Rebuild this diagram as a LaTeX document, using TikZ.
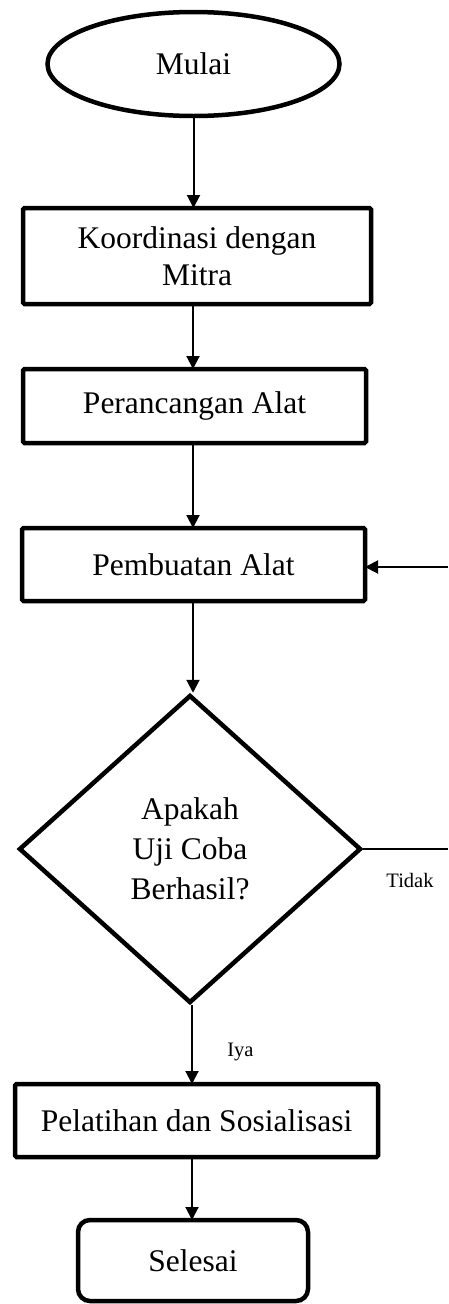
\documentclass[tikz,border=0pt]{standalone}
\usepackage{fontspec}
\setmainfont{Liberation Serif}
\usetikzlibrary{shapes.geometric,arrows.meta}
\begin{document}
\begin{tikzpicture}[x=1pt,y=-1pt,
  every node/.style={font=\fontsize{31.5}{37}\selectfont, text=black},
  procbox/.style={draw, line width=4.5pt, rounded corners=1.5pt, align=center, inner sep=0pt, outer sep=0pt},
  conn/.style={line width=2pt, -{Triangle[length=13pt,width=13pt]}},
  plainline/.style={line width=2pt},
  smalllbl/.style={font=\fontsize{20.5}{24}\selectfont}
]
\useasboundingbox (0,0) rectangle (448,1304);
\node[draw, ellipse, line width=4.5pt, minimum width=292pt, minimum height=104pt, inner sep=0pt] (start) at (193.5,64) {Mulai};
\node[procbox, minimum width=348pt, minimum height=96pt] (k) at (197,256) {Koordinasi dengan\\Mitra};
\node[procbox, minimum width=343pt, minimum height=74pt] (p) at (194.5,406) {Perancangan Alat};
\node[procbox, minimum width=343pt, minimum height=73pt] (b) at (193.5,564.5) {Pembuatan Alat};
\node[draw, diamond, line width=4.5pt, minimum width=342pt, minimum height=308pt, aspect=1.11, inner sep=0pt] (d) at (190,849) {};
\node[align=center, font=\fontsize{31.5}{40}\selectfont] (dt) at (d.center) {Apakah\\Uji Coba\\Berhasil?};
\node[procbox, minimum width=363pt, minimum height=73pt] (l) at (196.5,1120.5) {Pelatihan dan Sosialisasi};
\node[procbox, rounded corners=12pt, minimum width=230pt, minimum height=81pt] (s) at (193,1260.5) {Selesai};
\node[smalllbl] (tidak) at (410,880) {Tidak};
\node[smalllbl] (iya) at (240.5,1052) {Iya};
\coordinate (r1) at (448,849);
\coordinate (r2) at (448,567);
\draw[conn] (start.south) -- (start.south |- k.north);
\draw[conn] (k.south -| 193,0) -- (193,0 |- p.north);
\draw[conn] (p.south -| 193,0) -- (193,0 |- b.north);
\draw[conn] (b.south -| 193,0) -- (193,0 |- d.north);
\draw[conn] (192,1005) -- (192,0 |- l.north);
\draw[conn] (l.south -| 192,0) -- (192,0 |- s.north);
\draw[plainline] (d.east) -- (r1);
\draw[conn] (r2) -- (r2 -| b.east);
\end{tikzpicture}
\end{document}
